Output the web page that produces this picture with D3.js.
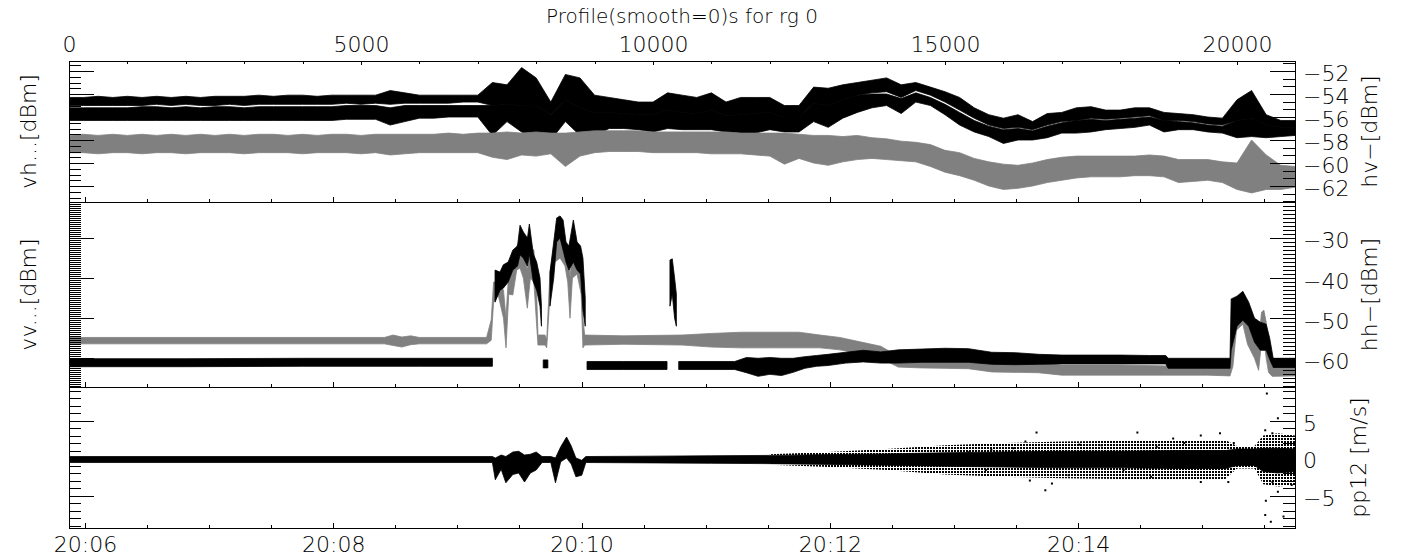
<!DOCTYPE html>
<html>
<head>
<meta charset="utf-8">
<script src="https://cdn.jsdelivr.net/npm/d3@7"></script>
<style>
  body { margin: 0; background: #fff; }
  text { font-family: "DejaVu Sans", sans-serif; font-weight: 200; fill: #000; }
  .tick line, .frame { shape-rendering: crispEdges; }
</style>
</head>
<body>
<svg id="chart" width="1401" height="559"></svg>
<script>
// ---- data (profile index -> value) ----
// top panel, sampled every 250 profiles
const topIdx = d3.range(0, 21001, 250);
const upperHi = [-54.3,-54.3,-54.2,-54.3, -54.2,-54.3,-54.2,-54.3, -54.2,-54.3,-54.2,-54.2, -54.2,-54.1,-54.2,-54.1,
  -54.1,-54.2,-54.1,-54.1, -54.1,-54.1,-53.7,-53.9, -54.1,-54.1,-54.1,-54.1, -54.1,-53.0,-53.2,-51.7,
  -52.6,-54.7,-52.3,-52.6, -54.1,-54.3,-54.5,-54.7, -54.7,-53.9,-54.1,-54.3, -53.9,-54.7,-54.3,-54.3,
  -54.3,-55.0,-55.0,-53.4, -53.5,-53.2,-53.0,-52.8, -52.6,-53.2,-53.0,-53.4, -53.8,-54.3,-55.2,-55.8,
  -56.1,-55.8,-56.4,-55.7, -55.6,-55.2,-55.1,-55.4, -55.4,-55.2,-55.2,-55.6, -55.7,-55.8,-56.0,-56.1,
  -54.5,-53.7,-55.8,-56.3, -56.3];
const upperLo = [-55.0,-55.0,-55.0,-55.0, -55.0,-55.0,-54.9,-55.0, -54.9,-55.0,-55.0,-54.9, -55.0,-54.9,-54.9,-54.9,
  -54.9,-54.9,-54.9,-54.8, -54.9,-54.8,-54.9,-54.8, -54.8,-54.8,-54.8,-54.7, -54.7,-55.0,-54.9,-55.0,
  -55.0,-55.8,-54.5,-55.2, -55.6,-55.6,-55.7,-55.8, -55.8,-55.4,-55.6,-55.7, -55.4,-55.9,-55.8,-55.7,
  -55.6,-56.0,-56.0,-54.8, -55.0,-54.5,-54.1,-53.9, -53.8,-54.3,-53.7,-54.1, -54.7,-55.4,-56.1,-56.7,
  -57.0,-56.9,-57.1,-56.7, -56.4,-56.3,-56.1,-56.2, -56.1,-56.0,-55.9,-56.3, -56.3,-56.4,-56.6,-56.7,
  -56.3,-56.1,-56.7,-56.9, -56.9];
const lowerHi = [-55.2,-55.2,-55.2,-55.2, -55.2,-55.1,-55.1,-55.2, -55.1,-55.2,-55.1,-55.1, -55.2,-55.1,-55.1,-55.1,
  -55.1,-55.1,-55.1,-55.0, -55.0,-55.0,-55.2,-55.0, -55.0,-55.0,-55.0,-55.0, -55.0,-55.0,-54.9,-55.0,
  -55.0,-55.8,-54.5,-55.2, -55.6,-55.6,-55.7,-55.8, -55.8,-55.4,-55.6,-55.7, -55.4,-55.9,-55.8,-55.7,
  -55.6,-56.0,-56.0,-54.8, -55.0,-54.5,-54.1,-54.0, -54.0,-54.4,-53.9,-54.3, -54.9,-55.6,-56.3,-56.8,
  -57.1,-57.0,-57.2,-56.8, -56.5,-56.3,-56.2,-56.3, -56.2,-56.1,-56.0,-56.3, -56.4,-56.5,-56.7,-56.8,
  -56.3,-56.1,-56.7,-56.9, -56.9];
const lowerLo = [-56.3,-56.3,-56.3,-56.3, -56.3,-56.3,-56.3,-56.3, -56.3,-56.3,-56.3,-56.3, -56.3,-56.3,-56.3,-56.3,
  -56.3,-56.3,-56.3,-56.2, -56.2,-56.2,-56.7,-56.4, -56.1,-56.1,-56.0,-56.0, -56.0,-57.6,-56.4,-57.3,
  -57.8,-58.0,-56.4,-57.6, -57.6,-57.0,-57.0,-57.1, -57.3,-57.0,-57.1,-57.1, -57.1,-57.3,-57.4,-57.4,
  -57.1,-57.3,-57.3,-56.4, -56.9,-56.1,-55.6,-55.2, -55.0,-55.7,-54.7,-55.0, -55.8,-56.7,-57.3,-57.7,
  -58.3,-58.0,-58.0,-57.8, -57.4,-57.4,-57.3,-57.1, -57.0,-56.9,-56.7,-57.3, -57.1,-57.1,-57.3,-57.4,
  -57.8,-57.7,-57.8,-57.7, -57.6];
const hvGrayHi = [-57.6,-57.5,-57.6,-57.5, -57.6,-57.5,-57.6,-57.5, -57.6,-57.5,-57.6,-57.5, -57.6,-57.5,-57.5,-57.6,
  -57.5,-57.6,-57.5,-57.5, -57.6,-57.5,-57.5,-57.5, -57.5,-57.5,-57.4,-57.5, -57.4,-57.4,-57.3,-57.4,
  -57.3,-57.4,-57.4,-57.3, -57.2,-57.2,-57.2,-57.2, -57.3,-57.3,-57.3,-57.3, -57.3,-57.3,-57.4,-57.4,
  -57.4,-57.4,-57.5,-57.6, -57.6,-57.7,-57.6,-57.8, -57.9,-58.1,-58.2,-58.4, -58.9,-59.1,-59.6,-59.9,
  -60.1,-60.2,-60.0,-59.7, -59.5,-59.4,-59.4,-59.4, -59.4,-59.4,-59.3,-59.4, -59.7,-59.7,-59.7,-59.9,
  -60.0,-58.0,-59.3,-60.2, -60.3];
const hvGrayLo = [-59.1,-59.1,-59.2,-59.1, -59.1,-59.2,-59.1,-59.1, -59.2,-59.1,-59.1,-59.1, -59.2,-59.1,-59.1,-59.1,
  -59.2,-59.1,-59.1,-59.1, -59.2,-59.1,-59.3,-59.2, -59.1,-59.1,-59.1,-59.1, -59.1,-59.5,-59.7,-59.3,
  -59.4,-59.2,-60.3,-59.4, -59.1,-59.0,-59.0,-59.0, -59.1,-59.1,-59.1,-59.1, -59.2,-59.2,-59.2,-59.3,
  -59.4,-60.1,-59.6,-60.0, -60.2,-59.9,-59.7,-59.6, -59.7,-59.8,-59.9,-60.3, -60.8,-61.1,-61.5,-62.0,
  -62.3,-62.2,-62.0,-61.7, -61.5,-61.3,-61.2,-61.2, -61.2,-61.1,-61.1,-61.2, -61.7,-61.6,-61.5,-61.7,
  -62.3,-62.6,-62.3,-62.3, -62.1];

// middle panel (null = no points)
const hhIdx = [0,2000,4000,6000,7250,7275,7295,7380,7437,7520,7600,7680,7723,7780,7850,7883,7951,8008,8065,8090,
  8100,8120,8200,8215,8236,8300,8350,8408,8460,8510,8560,8636,8700,8760,8800,8840,8855,8870,9500,10240,
  10255,10290,10330,10370,10400,10415,10440,11400,11600,11800,12000,12200,12400,12600,12800,13000,13300,13600,13900,14200,
  14600,15000,15400,15800,16200,16600,17000,17500,18000,18500,18780,18820,19500,19880,19900,20000,20100,20200,20300,20400,
  20500,20560,20620,21000];
const hhHi = [-60.1,-60.1,-60.0,-60.0,-60.0,null,-38.0,-38.5,-36.7,-36.0,-33.0,-32.0,-26.8,-28.5,-30.0,-26.5,-34.0,-36.0,-40.0,-47.0,
  null,-60.4,-60.4,null,-38.5,-31.0,-25.0,-24.5,-25.5,-31.0,-32.0,-25.5,-31.0,-32.0,-35.0,-45.0,null,-60.8,-60.8,-60.8,
  null,-35.5,-35.2,-40.0,-44.0,null,-60.8,-60.8,-59.8,-60.0,-59.8,-60.0,-60.0,-59.6,-59.3,-59.0,-58.5,-58.0,-58.4,-57.9,
  -57.7,-57.5,-57.6,-58.5,-58.6,-59.0,-59.2,-59.2,-59.2,-59.3,-59.3,-60.0,-60.0,-60.0,-45.2,-44.5,-43.3,-46.0,-50.0,-51.0,
  -51.5,-55.0,-60.0,-60.0];
const hhLo = [-62.1,-62.1,-62.0,-62.0,-62.0,null,-46.0,-43.0,-42.5,-41.0,-38.0,-37.0,-34.2,-35.0,-37.0,-34.0,-41.0,-43.0,-47.0,-52.0,
  null,-62.4,-62.4,null,-47.0,-40.0,-31.0,-30.0,-33.0,-36.0,-38.0,-36.0,-38.0,-39.0,-48.0,-52.0,null,-62.8,-62.8,-62.8,
  null,-47.0,-44.0,-50.0,-52.0,null,-62.8,-62.8,-63.6,-64.5,-64.0,-64.3,-63.5,-62.5,-62.0,-61.8,-61.2,-60.9,-61.2,-61.2,
  -61.0,-61.0,-61.0,-61.5,-61.6,-61.5,-61.4,-61.4,-61.4,-61.4,-61.4,-62.5,-62.5,-62.5,-58.0,-52.0,-50.5,-52.0,-56.0,-58.0,
  -58.0,-60.3,-62.3,-62.3];

const vvIdx = [0,5400,5550,5700,5850,6000,7150,7230,7270,7350,7440,7483,7530,7600,7666,7723,7780,7848,7900,7960,
  8000,8030,8150,8180,8236,8322,8408,8493,8540,8579,8620,8700,8770,8800,8830,9500,10500,11000,11500,12000,
  12500,12860,13200,13545,13900,14200,14600,15000,15400,15800,16600,17000,18000,18800,19500,19880,19930,19990,20100,20180,
  20300,20370,20420,20460,20500,20540,20600,21000];
const vvHi = [-54.8,-54.8,-54.2,-54.7,-54.4,-54.8,-54.8,-50.4,-41.0,-41.0,-43.0,-50.0,-38.0,-37.5,-32.0,-31.0,-33.0,-38.0,-32.5,-33.0,
  -40.0,-54.2,-54.2,-55.4,-38.5,-31.0,-27.5,-32.0,-33.0,-40.0,-33.0,-31.5,-34.0,-50.0,-54.2,-54.4,-54.2,-53.8,-53.5,-53.5,
  -53.5,-54.2,-54.8,-55.9,-57.0,-59.5,-59.9,-60.0,-60.2,-61.0,-61.2,-61.7,-61.7,-61.9,-62.0,-62.0,-51.0,-47.5,-46.5,-49.0,
  -51.0,-56.0,-48.5,-48.0,-51.0,-58.0,-62.2,-62.2];
const vvLo = [-56.4,-56.4,-56.8,-57.2,-56.6,-56.4,-56.4,-55.5,-46.0,-44.2,-50.0,-57.4,-44.0,-44.2,-38.0,-37.5,-40.0,-47.5,-40.0,-41.0,
  -50.0,-56.7,-56.7,-57.4,-44.2,-36.0,-35.0,-37.0,-41.0,-50.0,-40.0,-39.0,-44.0,-57.4,-56.7,-56.5,-56.7,-57.2,-57.4,-57.4,
  -57.4,-57.4,-57.9,-58.9,-60.0,-62.2,-62.4,-62.5,-62.6,-63.4,-63.6,-64.2,-64.2,-64.2,-64.2,-64.4,-62.0,-53.0,-51.5,-56.5,
  -60.0,-63.0,-56.0,-55.0,-60.0,-63.5,-64.5,-64.4];

// bottom panel: dense core and the looser scatter around it
const ppIdx = [0,7250,7300,7400,7480,7600,7700,7800,7900,8000,8100,8250,8330,8420,8520,8600,8680,8780,8850,10000,
  11000,12000,13000,14000,15000,16000,17000,18000,19000,19800,20000,20300,20450,20700,21000];
const ppHi = [0.2,0.2,0.0,0.4,0.2,0.8,0.9,0.4,0.5,0.8,0.2,0.2,0.0,1.5,2.8,1.6,0.0,-0.3,0.2,0.25,
  0.3,0.35,0.45,0.55,0.7,0.8,0.9,0.9,1.0,1.0,1.2,1.2,1.3,1.3,1.2];
const ppLo = [-0.6,-0.6,-2.9,-1.5,-3.3,-2.2,-2.0,-3.2,-2.0,-1.6,-0.6,-0.6,-3.3,-0.5,0.0,-0.8,-2.5,-2.3,-0.6,-0.65,
  -0.7,-0.75,-0.85,-0.95,-1.1,-1.2,-1.3,-1.3,-1.4,-1.4,-1.0,-1.0,-1.8,-2.0,-1.8];
const ppScatIdx = [12000,13000,14000,15000,16000,17000,18000,19000,19800,20000,20300,20450,20700,21000];
const ppScatHi = [0.5,0.8,1.2,1.7,2.0,2.2,2.3,2.4,2.4,1.6,1.6,3.0,3.3,3.0];
const ppScatLo = [-0.9,-1.2,-1.6,-2.2,-2.5,-2.7,-2.8,-2.8,-2.8,-1.4,-1.4,-3.5,-3.8,-3.6];
const ppDotIdx = [16567,16718,16453,16831,16377,16170,18294,18907,19380,19709,19851,19380,18529,18058,17303,17680,15793,15415,15699,17115,
  18625,19096,19945,20511,20483,20700,20606,20494,20483,20579,20796,20700,20936,20606];
const ppDotVal = [3.4,-4.3,-3.0,-3.4,2.2,1.3,3.4,2.6,3.0,3.3,-3.2,-3.2,-2.5,-1.6,1.8,1.7,1.1,0.8,-1.6,-2.3,
  1.5,2.0,2.0,8.6,3.7,5.3,3.3,-5.7,-7.6,-8.5,-7.8,-4.5,-3.6,-3.2];

// axis ticks
const profileMajor = [0, 5000, 10000, 15000, 20000];
const timeStart = new Date(2000, 0, 1, 20, 5, 52, 300);
const timeEnd = new Date(2000, 0, 1, 20, 15, 44, 800);

// ---- layout ----
const left = 69, right = 1295;
const panels = [
  { top: 61, bottom: 202, domain: [-63.39, -51.13], major: [-62, -60, -58, -56, -54, -52],
    minorR: d3.range(-63.3333, -51.1, 2 / 3), minorL: d3.range(-63, -51.1, 0.5),
    leftTitle: 'vh...[dBm]', rightTitle: 'hv\u2212[dBm]', rightX: 1377 },
  { top: 202, bottom: 387, domain: [-67.16, -21.02], major: [-60, -50, -40, -30],
    minorR: d3.range(-67, -21, 1), minorL: d3.range(-67, -21, 0.5),
    leftTitle: 'vv...[dBm]', rightTitle: 'hh\u2212[dBm]', rightX: 1377 },
  { top: 387, bottom: 528, domain: [-9.33, 9.47], major: [-5, 0, 5],
    minorR: d3.range(-9, 10, 1), minorL: d3.range(-9, 10, 1),
    leftTitle: null, rightTitle: 'pp12 [m/s]', rightX: 1366 }
];

const svg = d3.select('#chart');
const xIdx = d3.scaleLinear().domain([0, 20993]).range([left, right]);
const xTime = d3.scaleTime().domain([timeStart, timeEnd]).range([left, right]);
panels.forEach(p => {
  p.y = d3.scaleLinear().domain(p.domain).range([p.bottom, p.top]);
});

const defs = svg.append('defs');
panels.forEach((p, i) => {
  defs.append('clipPath').attr('id', 'clip' + i)
    .append('rect').attr('x', left).attr('y', p.top)
    .attr('width', right - left).attr('height', p.bottom - p.top);
});
// loose point cloud (psym=3 style dots)
const sparse = defs.append('pattern').attr('id', 'sparse')
  .attr('patternUnits', 'userSpaceOnUse').attr('width', 3).attr('height', 3);
sparse.append('rect').attr('width', 2).attr('height', 2).attr('fill', '#000');

// band of points between a high and a low envelope
function band(g, y, idx, hi, lo, fill, stroke) {
  const area = d3.area()
    .defined((d, i) => hi[i] !== null)
    .x(d => xIdx(d))
    .y0((d, i) => y(lo[i]))
    .y1((d, i) => y(hi[i]));
  g.append('path')
    .attr('d', area(idx))
    .attr('fill', fill)
    .attr('stroke', stroke || 'none')
    .attr('stroke-width', 0.8);
}

const gray = '#808080';
const g0 = svg.append('g').attr('clip-path', 'url(#clip0)');
band(g0, panels[0].y, topIdx, upperHi, upperLo, '#000', '#000');
band(g0, panels[0].y, topIdx, lowerHi, lowerLo, '#000', '#000');
band(g0, panels[0].y, topIdx, hvGrayHi, hvGrayLo, gray, gray);

const g1 = svg.append('g').attr('clip-path', 'url(#clip1)');
band(g1, panels[1].y, vvIdx, vvHi, vvLo, gray, gray);
band(g1, panels[1].y, hhIdx, hhHi, hhLo, '#000', '#000');

const g2 = svg.append('g').attr('clip-path', 'url(#clip2)');
band(g2, panels[2].y, ppScatIdx, ppScatHi, ppScatLo, 'url(#sparse)');
band(g2, panels[2].y, ppIdx, ppHi, ppLo, '#000', '#000');
g2.selectAll('rect.dot')
  .data(ppDotIdx)
  .join('rect')
  .attr('class', 'dot')
  .attr('x', d => xIdx(d) - 1)
  .attr('y', (d, i) => panels[2].y(ppDotVal[i]) - 1)
  .attr('width', 2).attr('height', 2)
  .attr('fill', '#000');

// ---- axes ----
const noDomain = g => g.select('.domain').remove();
const fontSize = '22px';

panels.forEach((p, i) => {
  // frame
  svg.append('rect').attr('class', 'frame')
    .attr('x', left).attr('y', p.top)
    .attr('width', right - left).attr('height', p.bottom - p.top)
    .attr('fill', 'none').attr('stroke', '#000').attr('stroke-width', 1);

  // time ticks along the bottom of each panel
  svg.append('g')
    .attr('transform', 'translate(0,' + p.bottom + ')')
    .call(d3.axisBottom(xTime).ticks(d3.timeSecond.every(30)).tickSize(-3).tickFormat(''))
    .call(noDomain);
  const tAxis = svg.append('g')
    .attr('transform', 'translate(0,' + p.bottom + ')')
    .call(d3.axisBottom(xTime).ticks(d3.timeMinute.every(2)).tickSize(-5).tickPadding(8)
      .tickFormat(i === 2 ? d3.timeFormat('%H:%M') : ''))
    .call(noDomain);
  tAxis.selectAll('text').style('font-size', fontSize).attr('fill', '#000');

  // left axis: ticks only
  svg.append('g')
    .attr('transform', 'translate(' + left + ',0)')
    .call(d3.axisLeft(p.y).tickValues(p.minorL).tickSize(-12).tickFormat(''))
    .call(noDomain);
  svg.append('g')
    .attr('transform', 'translate(' + left + ',0)')
    .call(d3.axisLeft(p.y).tickValues(p.major).tickSize(-25).tickFormat(''))
    .call(noDomain);

  // right axis with labels
  svg.append('g')
    .attr('transform', 'translate(' + right + ',0)')
    .call(d3.axisRight(p.y).tickValues(p.minorR).tickSize(-12).tickFormat(''))
    .call(noDomain);
  const rAxis = svg.append('g')
    .attr('transform', 'translate(' + right + ',0)')
    .call(d3.axisRight(p.y).tickValues(p.major).tickSize(-25).tickPadding(8).tickFormat(d3.format('d')))
    .call(noDomain);
  rAxis.selectAll('text').style('font-size', fontSize).attr('fill', '#000').attr('dy', '0.45em');

  // axis titles
  if (p.leftTitle) {
    svg.append('text')
      .attr('transform', 'translate(36,' + (p.top + p.bottom) / 2 + ') rotate(-90)')
      .style('text-anchor', 'middle').style('font-size', fontSize)
      .text(p.leftTitle);
  }
  svg.append('text')
    .attr('transform', 'translate(' + p.rightX + ',' + (p.top + p.bottom) / 2 + ') rotate(-90)')
    .style('text-anchor', 'middle').style('font-size', fontSize)
    .text(p.rightTitle);
});

// profile axis on top
svg.append('g')
  .attr('transform', 'translate(0,' + panels[0].top + ')')
  .call(d3.axisTop(xIdx).tickValues(d3.range(1000, 21000, 1000)).tickSize(-2.5).tickFormat(''))
  .call(noDomain);
const pAxis = svg.append('g')
  .attr('transform', 'translate(0,' + panels[0].top + ')')
  .call(d3.axisTop(xIdx).tickValues(profileMajor).tickSize(-4).tickPadding(9).tickFormat(d3.format('d')))
  .call(noDomain);
pAxis.selectAll('text').style('font-size', fontSize).attr('fill', '#000');

svg.selectAll('.tick line').attr('stroke', '#000');

// title
svg.append('text')
  .attr('x', (left + right) / 2)
  .attr('y', 23)
  .style('text-anchor', 'middle')
  .style('font-size', '20px')
  .text('Profile(smooth=0)s for rg 0');
</script>
</body>
</html>
